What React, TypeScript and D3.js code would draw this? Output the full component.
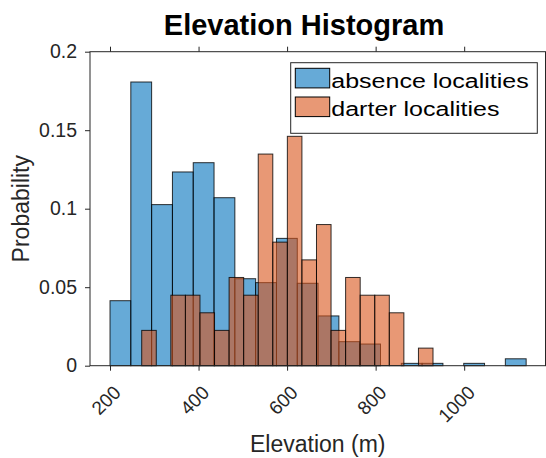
import * as d3 from "d3";
import React, { useEffect, useRef } from "react";

// bin specs (MATLAB-style: first edge + bin width)
const absenceStart = 200;
const absenceWidth = 47;
const darterStart = 271.6;
const darterWidth = 32.9;

// probability per bin
const absenceProb = [
  0.0414, 0.1807, 0.1026, 0.1234, 0.1293, 0.107, 0.0554, 0.0529, 0.0811, 0.0525,
  0.0317, 0.0153, 0.0138, 0, 0.0015, 0.0015, 0, 0.0015, 0, 0.0044,
];
const darterProb = [
  0.0225, 0, 0.0449, 0.0449, 0.0337, 0.0225, 0.0562, 0.0449, 0.1348, 0.0787,
  0.1461, 0.0674, 0.0899, 0.0225, 0.0562, 0.0449, 0.0449, 0.0337, 0, 0.0112,
];

const xTicks = [200, 400, 600, 800, 1000];
const yTicks = [0, 0.05, 0.1, 0.15, 0.2];
const yTickLabels = ["0", "0.05", "0.1", "0.15", "0.2"];
const seriesNames = ["absence localities", "darter localities"];
const seriesColors = ["#0072BD", "#D95319"];

export default function App() {
  const ref = useRef<SVGSVGElement>(null);

  useEffect(() => {
    const svg = d3.select(ref.current);
    svg.selectAll("*").remove();

    const width = 546;
    const height = 458;
    const margin = { top: 51.7, right: 0.5, bottom: 92.3, left: 90 };
    const font = "'Liberation Sans', Arial, Helvetica, sans-serif";
    const axisColor = "#262626";

    const x = d3.scaleLinear().domain([154.8, 1183.7]).range([margin.left, width - margin.right]);
    const y = d3.scaleLinear().domain([0, 0.2]).range([height - margin.bottom, margin.top]);

    const series = [
      { start: absenceStart, w: absenceWidth, values: absenceProb },
      { start: darterStart, w: darterWidth, values: darterProb },
    ];

    // bars, darter drawn over absence
    series.forEach((s, si) => {
      svg
        .append("g")
        .selectAll("rect")
        .data(s.values.map((v, i) => ({ v, i })).filter((d) => d.v > 0))
        .join("rect")
        .attr("x", (d) => x(s.start + d.i * s.w))
        .attr("width", (d) => x(s.start + (d.i + 1) * s.w) - x(s.start + d.i * s.w))
        .attr("y", (d) => y(d.v))
        .attr("height", (d) => y(0) - y(d.v))
        .attr("fill", seriesColors[si])
        .attr("fill-opacity", 0.6)
        .attr("stroke", "#000")
        .attr("stroke-width", 1)
        .attr("stroke-opacity", 0.8);
    });

    // box
    svg
      .append("rect")
      .attr("x", x.range()[0])
      .attr("y", margin.top)
      .attr("width", x.range()[1] - x.range()[0])
      .attr("height", y(0) - margin.top)
      .attr("fill", "none")
      .attr("stroke", axisColor)
      .attr("stroke-width", 1);

    // x axis (bottom) + mirrored ticks on top
    const xAxis = svg
      .append("g")
      .attr("transform", `translate(0,${y(0)})`)
      .call(d3.axisBottom(x).tickValues(xTicks).tickSize(5).tickFormat(() => ""));
    xAxis.select(".domain").remove();
    xAxis.selectAll(".tick line").attr("stroke", axisColor);

    const xTop = svg
      .append("g")
      .attr("transform", `translate(0,${margin.top})`)
      .call(d3.axisTop(x).tickValues(xTicks).tickSize(5).tickFormat(() => ""));
    xTop.select(".domain").remove();
    xTop.selectAll(".tick line").attr("stroke", axisColor);

    svg
      .append("g")
      .selectAll("text")
      .data(xTicks)
      .join("text")
      .attr("transform", (d) => `translate(${x(d) + 12},${y(0) + 28}) rotate(-45)`)
      .attr("text-anchor", "end")
      .attr("font-family", font)
      .attr("font-size", 19)
      .attr("fill", axisColor)
      .text((d) => String(d));

    // y axis
    const yAxis = svg
      .append("g")
      .attr("transform", `translate(${margin.left},0)`)
      .call(
        d3
          .axisLeft(y)
          .tickValues(yTicks)
          .tickSize(5)
          .tickPadding(8)
          .tickFormat((_, i) => yTickLabels[i])
      );
    yAxis.select(".domain").remove();
    yAxis.selectAll(".tick line").attr("stroke", axisColor);
    yAxis
      .selectAll(".tick text")
      .attr("font-family", font)
      .attr("font-size", 19.5)
      .attr("fill", axisColor);

    // labels
    svg
      .append("text")
      .attr("x", (x.range()[0] + x.range()[1]) / 2)
      .attr("y", 452)
      .attr("text-anchor", "middle")
      .attr("font-family", font)
      .attr("font-size", 23)
      .attr("fill", axisColor)
      .text("Elevation (m)");

    svg
      .append("text")
      .attr("transform", `translate(28.5,${(y(0) + margin.top) / 2}) rotate(-90)`)
      .attr("text-anchor", "middle")
      .attr("font-family", font)
      .attr("font-size", 23)
      .attr("fill", axisColor)
      .text("Probability");

    svg
      .append("text")
      .attr("x", 304)
      .attr("y", 35)
      .attr("text-anchor", "middle")
      .attr("font-family", font)
      .attr("font-size", 29)
      .attr("font-weight", "bold")
      .attr("fill", "#000")
      .text("Elevation Histogram");

    // legend
    const lg = svg.append("g").attr("transform", "translate(290.7,62.7)");
    lg.append("rect")
      .attr("width", 246.6)
      .attr("height", 70.6)
      .attr("fill", "#fff")
      .attr("stroke", axisColor)
      .attr("stroke-width", 1);
    seriesNames.forEach((name, i) => {
      const row = lg.append("g").attr("transform", `translate(4.6,${5.6 + i * 28.7})`);
      row
        .append("rect")
        .attr("width", 34.4)
        .attr("height", 19.6)
        .attr("fill", seriesColors[i])
        .attr("fill-opacity", 0.6)
        .attr("stroke", "#000")
        .attr("stroke-width", 1);
      const t = row
        .append("text")
        .attr("x", 36)
        .attr("y", 19.4)
        .attr("font-family", font)
        .attr("font-size", 20)
        .attr("fill", "#000")
        .text(name);
      const node = t.node() as SVGTextElement;
      const w = node.getComputedTextLength();
      t.attr("textLength", w * 1.25).attr("lengthAdjust", "spacingAndGlyphs");
    });
  }, []);

  return (
    <svg
      ref={ref}
      width={546}
      height={458}
      style={{ position: "absolute", left: 0, top: 0, background: "#fff" }}
    />
  );
}
